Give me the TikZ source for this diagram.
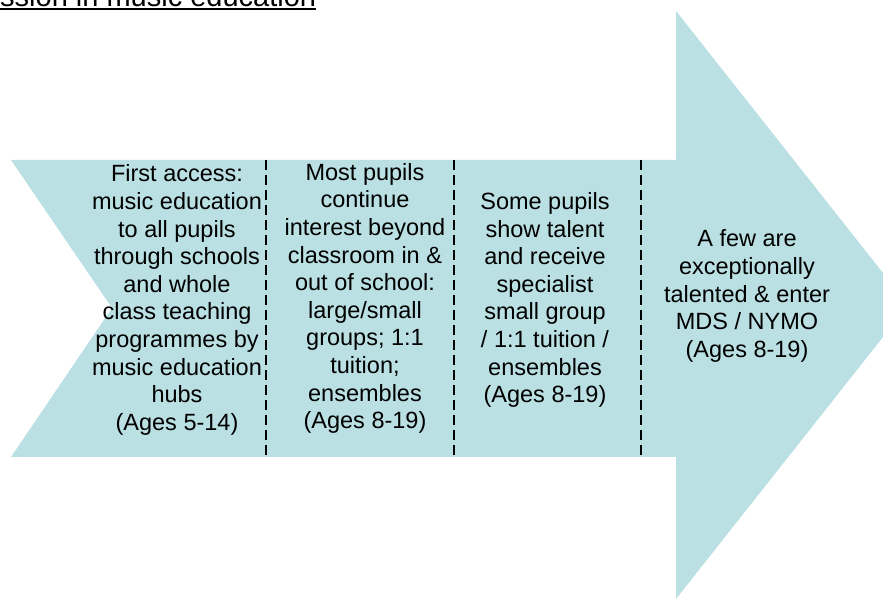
\documentclass[tikz,border=0pt]{standalone}
\usepackage{fontspec}
\setmainfont{Liberation Sans}
\begin{document}
\begin{tikzpicture}[x=1pt,y=1pt,
  colfill/.style={fill=arrowblue, draw=none},
  coltext/.style={align=center, inner sep=0pt, font=\fontsize{23.5}{27.6}\selectfont, text=black},
  sep/.style={draw=black, line width=1.8pt, dash pattern=on 10pt off 5pt}]
\definecolor{arrowblue}{RGB}{186,224,227}
\useasboundingbox (0,0) rectangle (883,599);
% arrow shape (pixel coordinates, y measured from the top)
\path[colfill] (11,599-160) -- (676,599-160) -- (676,599-11) -- (883,599-273)
  -- (883,599-337) -- (676,599-599) -- (676,599-457) -- (11,599-457)
  -- (112,599-308) -- cycle;
% separators
\foreach \x/\n in {266/a,454/b,641/c}{
  \coordinate (top\n) at (\x,599-160);
  \coordinate (bot\n) at (\x,599-457);
  \draw[sep] (top\n) -- (bot\n);
}
% title
\node[anchor=base west, inner sep=0pt, font=\fontsize{29}{34}\selectfont] (title) at (0,599-7) {ssion in music education};
\draw[line width=2pt] (title.base west) ++(0,-2.2) -- ++(316,0);
% column texts
\node[coltext] (c1) at (177,599-300) {First access:\\music education\\to all pupils\\through schools\\and whole\\class teaching\\programmes by\\music education\\hubs\\(Ages 5-14)};
\node[coltext] (c2) at (365,599-298.5) {Most pupils\\continue\\interest beyond\\classroom in \&\\out of school:\\large/small\\groups; 1:1\\tuition;\\ensembles\\(Ages 8-19)};
\node[coltext] (c3) at (545,599-300) {Some pupils\\show talent\\and receive\\specialist\\small group\\/ 1:1 tuition /\\ensembles\\(Ages 8-19)};
\node[coltext] (c4) at (747,599-296) {A few are\\exceptionally\\talented \& enter\\MDS / NYMO\\(Ages 8-19)};
\end{tikzpicture}
\end{document}
